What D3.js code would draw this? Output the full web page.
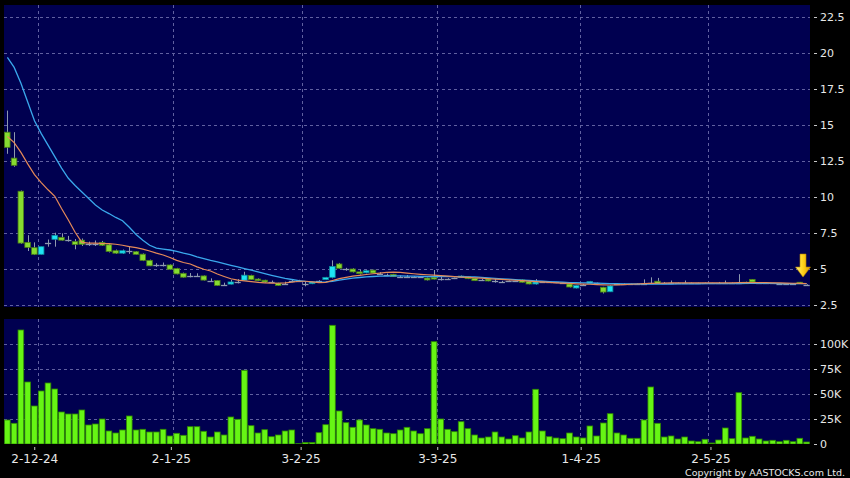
<!DOCTYPE html>
<html><head><meta charset="utf-8">
<script src="https://cdn.jsdelivr.net/npm/d3@7"></script>
<style>html,body{margin:0;padding:0;background:#000;}svg{display:block;}</style>
</head><body>
<svg id="c" width="850" height="478"></svg>
<script>
const dates = [
"2024-11-26","2024-11-27","2024-11-28","2024-11-29",
"2024-12-02","2024-12-03","2024-12-04","2024-12-05","2024-12-06",
"2024-12-09","2024-12-10","2024-12-11","2024-12-12","2024-12-13",
"2024-12-16","2024-12-17","2024-12-18","2024-12-19","2024-12-20",
"2024-12-23","2024-12-24","2024-12-27","2024-12-30","2024-12-31",
"2025-01-02","2025-01-03","2025-01-06","2025-01-07","2025-01-08","2025-01-09","2025-01-10",
"2025-01-13","2025-01-14","2025-01-15","2025-01-16","2025-01-17",
"2025-01-20","2025-01-21","2025-01-22","2025-01-23","2025-01-24","2025-01-27","2025-01-28",
"2025-02-03","2025-02-04","2025-02-05","2025-02-06","2025-02-07",
"2025-02-10","2025-02-11","2025-02-12","2025-02-13","2025-02-14",
"2025-02-17","2025-02-18","2025-02-19","2025-02-20","2025-02-21",
"2025-02-24","2025-02-25","2025-02-26","2025-02-27","2025-02-28",
"2025-03-03","2025-03-04","2025-03-05","2025-03-06","2025-03-07",
"2025-03-10","2025-03-11","2025-03-12","2025-03-13","2025-03-14",
"2025-03-17","2025-03-18","2025-03-19","2025-03-20","2025-03-21",
"2025-03-24","2025-03-25","2025-03-26","2025-03-27","2025-03-28","2025-03-31",
"2025-04-01","2025-04-02","2025-04-03","2025-04-07","2025-04-08","2025-04-09","2025-04-10","2025-04-11",
"2025-04-14","2025-04-15","2025-04-16","2025-04-17",
"2025-04-22","2025-04-23","2025-04-24","2025-04-25","2025-04-28","2025-04-29","2025-04-30",
"2025-05-02","2025-05-06","2025-05-07","2025-05-08","2025-05-09",
"2025-05-12","2025-05-13","2025-05-14","2025-05-15","2025-05-16",
"2025-05-19","2025-05-20","2025-05-21","2025-05-22","2025-05-23","2025-05-26"];

const open = [
14.5,12.7,10.4,6.85,6.48,6.02,6.78,7.06,7.2,7.0,
6.9,7.0,6.72,6.75,6.85,6.68,6.27,6.1,6.27,6.2,
6.03,5.6,5.25,5.25,5.28,5.03,4.7,4.5,4.53,4.52,
4.2,4.2,3.92,3.95,4.12,4.22,4.55,4.3,4.22,4.1,
4.02,3.98,4.15,4.17,3.97,3.98,4.15,4.26,4.42,5.35,
4.97,5.0,4.8,4.74,4.92,4.68,4.6,4.63,4.47,4.46,
4.43,4.45,4.37,4.42,4.3,4.3,4.35,4.4,4.47,4.35,
4.24,4.3,4.15,4.12,4.14,4.14,4.24,4.12,3.96,4.1,
4.08,4.07,4.02,3.96,3.68,3.9,4.0,4.0,3.73,3.42,
3.96,3.96,3.96,3.97,3.98,4.0,4.15,4.0,4.02,4.02,
4.03,4.03,4.03,4.03,4.03,4.03,4.05,4.03,4.05,4.08,
4.28,4.05,4.02,4.0,3.99,3.98,3.98,4.08,3.92];
const high = [
16.0,14.5,10.45,7.35,6.85,6.55,7.05,7.52,7.48,7.3,
7.08,7.12,6.9,6.98,6.95,6.78,6.35,6.35,6.55,6.25,
6.08,5.65,5.4,5.45,5.32,5.08,4.75,4.72,4.7,4.55,
4.35,4.23,4.05,4.25,4.3,4.81,4.6,4.35,4.25,4.2,
4.05,4.12,4.28,4.25,4.12,4.12,4.22,4.45,5.6,5.42,
5.08,5.05,4.95,4.92,4.95,4.78,4.68,4.66,4.55,4.58,
4.5,4.5,4.4,4.93,4.45,4.36,4.4,4.55,4.5,4.37,
4.3,4.32,4.3,4.18,4.2,4.18,4.27,4.15,4.3,4.14,
4.12,4.1,4.06,3.98,3.87,3.95,4.17,4.05,3.76,3.86,
4.0,4.0,3.98,4.0,4.28,4.42,4.38,4.1,4.2,4.06,
4.2,4.06,4.05,4.06,4.04,4.1,4.2,4.07,4.64,4.12,
4.3,4.1,4.05,4.03,4.03,4.0,4.0,4.1,3.95];
const low = [
13.0,12.1,6.75,6.25,5.97,6.0,6.55,6.55,6.97,6.9,
6.37,6.6,6.6,6.6,6.6,6.15,6.05,6.05,6.05,6.0,
5.55,5.2,5.15,5.18,4.95,4.63,4.4,4.42,4.45,4.2,
4.15,3.82,3.85,3.93,4.0,4.2,4.24,4.15,4.05,4.02,
3.82,3.9,4.08,4.1,3.8,3.95,4.08,4.24,4.35,5.02,
4.88,4.76,4.62,4.7,4.7,4.6,4.52,4.45,4.42,4.4,
4.38,4.38,4.2,4.28,4.2,4.25,4.3,4.38,4.3,4.17,
4.2,4.15,4.05,4.08,4.1,4.1,4.06,3.94,3.92,4.05,
4.03,4.02,3.98,3.72,3.65,3.85,3.98,3.95,3.3,3.4,
3.9,3.93,3.94,3.94,3.95,3.96,3.98,3.97,3.98,3.99,
4.0,4.0,4.01,4.0,4.02,4.0,4.0,4.0,4.0,4.03,
4.08,4.02,4.0,3.97,3.96,3.95,3.96,3.96,3.9];
const close = [
13.45,12.2,6.8,6.5,6.02,6.55,6.78,7.34,7.0,7.0,
6.7,6.72,6.72,6.75,6.65,6.22,6.1,6.27,6.27,6.02,
5.6,5.22,5.25,5.25,4.98,4.66,4.43,4.5,4.53,4.23,
4.2,3.86,3.92,4.1,4.12,4.57,4.27,4.19,4.1,4.1,
3.86,3.98,4.15,4.17,3.97,4.1,4.15,4.42,5.18,5.05,
4.97,4.8,4.68,4.88,4.72,4.68,4.6,4.47,4.47,4.46,
4.43,4.45,4.24,4.3,4.3,4.3,4.35,4.51,4.33,4.19,
4.24,4.17,4.15,4.12,4.14,4.14,4.08,3.96,4.1,4.1,
4.08,4.07,4.02,3.75,3.85,3.9,4.13,4.0,3.4,3.82,
3.96,3.96,3.96,3.97,3.98,4.0,4.0,4.0,4.02,4.02,
4.03,4.03,4.03,4.03,4.03,4.03,4.05,4.03,4.05,4.05,
4.1,4.05,4.02,4.0,3.99,3.98,3.98,3.97,3.92];
const volume = [
24000,20700,114000,62000,38000,53000,61000,55000,32000,30000,
30000,34000,19000,20000,25000,13000,11000,14000,28000,14000,
14700,12000,12000,14700,8000,10700,8700,17300,17300,12700,
7000,12000,9000,27000,24700,73700,18300,11000,14300,7300,
9000,13000,14000,300,1500,1500,11300,19300,118700,33000,
21300,16700,24000,19000,15300,14700,11000,10300,14000,16700,
13000,10300,15300,102300,25000,14700,12300,22300,15300,9000,
6000,7000,12000,7000,5000,8300,6000,12000,54700,13000,
7300,6000,5300,11000,7000,6000,18000,8000,21000,30300,
11000,9000,5700,5700,24000,57000,20700,7000,8000,5000,
7000,3000,2300,4700,1000,4000,16000,5300,51300,6000,
7700,5000,3000,3700,2300,3700,2300,5700,2000];
const maShort = [
14.2,13.78,13.1,12.3,11.55,11.0,10.5,10.05,9.2,8.4,
7.55,6.85,6.8,6.79,6.77,6.76,6.72,6.65,6.56,6.48,
6.38,6.25,6.1,5.97,5.8,5.6,5.45,5.35,5.15,4.98,
4.86,4.65,4.48,4.32,4.23,4.18,4.12,4.07,4.04,4.02,
4.01,4.03,4.08,4.15,4.15,4.1,4.05,4.07,4.2,4.33,
4.42,4.5,4.56,4.62,4.67,4.72,4.76,4.78,4.77,4.72,
4.67,4.63,4.6,4.57,4.54,4.5,4.47,4.44,4.42,4.39,
4.36,4.33,4.3,4.28,4.25,4.22,4.19,4.16,4.13,4.1,
4.07,4.04,4.02,4.0,3.97,3.95,3.94,3.92,3.9,3.89,
3.9,3.92,3.94,3.96,3.98,4.0,4.01,4.02,4.03,4.03,
4.03,4.03,4.03,4.03,4.03,4.03,4.03,4.04,4.05,4.06,
4.06,4.06,4.05,4.04,4.03,4.02,4.01,4.0,3.99];
const maLong = [
19.7,19.0,17.9,16.6,15.3,14.4,13.6,12.8,12.0,11.3,
10.8,10.35,9.9,9.45,9.1,8.85,8.58,8.35,7.9,7.4,
7.0,6.65,6.45,6.38,6.32,6.22,6.1,6.0,5.85,5.72,
5.6,5.5,5.38,5.26,5.14,5.03,4.92,4.8,4.68,4.56,
4.45,4.35,4.27,4.2,4.14,4.1,4.08,4.1,4.15,4.22,
4.3,4.36,4.41,4.45,4.48,4.5,4.51,4.52,4.52,4.51,
4.5,4.49,4.48,4.48,4.48,4.48,4.47,4.47,4.46,4.45,
4.42,4.38,4.35,4.32,4.29,4.26,4.23,4.2,4.18,4.15,
4.12,4.1,4.08,4.06,4.05,4.04,4.03,4.02,4.0,3.99,
3.98,3.97,3.97,3.96,3.96,3.96,3.96,3.96,3.96,3.97,
3.97,3.97,3.97,3.98,3.98,3.98,3.98,3.99,3.99,4.0,
4.0,4.0,4.0,4.0,3.99,3.99,3.99,3.98,3.98];

const priceTicks = [2.5,5,7.5,10,12.5,15,17.5,20,22.5];
const volTicks = [0,25000,50000,75000,100000];
const volTickLabels = ["0","25K","50K","75K","100K"];
const xTickDates = ["2024-12-02","2025-01-02","2025-02-03","2025-03-03","2025-04-01","2025-05-02"];
const xTickLabels = ["2-12-24","2-1-25","3-2-25","3-3-25","1-4-25","2-5-25"];

const svg = d3.select("#c");
const FONT = "DejaVu Sans, Verdana, sans-serif";
const NAVY = "#000050";
const GRID = "#6060a0";
const L = 4, R = 810;
const P = {top:5, bottom:307};
const V = {top:319, bottom:444};

const x = d3.scaleBand().domain(dates).range([L, R]);
const xLab = d3.scaleBand().domain(dates.slice(0, -1)).range([L, R]);
const bw = x.bandwidth();
const cx = d => x(d) + bw / 2;
const y = d3.scaleLinear().domain([2.5, 22.5]).range([305, 17]);
const yv = d3.scaleLinear().domain([0, 100000]).range([444, 344]);

svg.append("rect").attr("width",850).attr("height",478).attr("fill","#000");
svg.append("rect").attr("x",L).attr("y",P.top).attr("width",R-L).attr("height",P.bottom-P.top).attr("fill",NAVY);
svg.append("rect").attr("x",L).attr("y",V.top).attr("width",R-L).attr("height",V.bottom-V.top).attr("fill",NAVY);

const defs = svg.append("defs");
defs.append("clipPath").attr("id","cp").append("rect").attr("x",L).attr("y",P.top).attr("width",R-L).attr("height",P.bottom-P.top);
defs.append("clipPath").attr("id","cv").append("rect").attr("x",L).attr("y",V.top).attr("width",R-L).attr("height",V.bottom-V.top);
const grad = defs.append("linearGradient").attr("id","ag").attr("x1","0").attr("x2","1").attr("y1","0").attr("y2","0");
grad.append("stop").attr("offset","0").attr("stop-color","#fff27a");
grad.append("stop").attr("offset","0.5").attr("stop-color","#ffd21a");
grad.append("stop").attr("offset","1").attr("stop-color","#d99a00");

// grid lines
const gp = svg.append("g").attr("clip-path","url(#cp)");
gp.selectAll("line.h").data(priceTicks).join("line")
  .attr("x1",L).attr("x2",R).attr("y1",d=>Math.round(y(d))+0.5).attr("y2",d=>Math.round(y(d))+0.5)
  .attr("stroke",GRID).attr("stroke-dasharray","3,3");
gp.selectAll("line.v").data(xTickDates).join("line")
  .attr("x1",d=>Math.round(x(d)+x.step())+0.5).attr("x2",d=>Math.round(x(d)+x.step())+0.5)
  .attr("y1",P.top).attr("y2",P.bottom).attr("stroke",GRID).attr("stroke-dasharray","3,3");
const gv = svg.append("g").attr("clip-path","url(#cv)");
gv.selectAll("line.h").data(volTicks.slice(1)).join("line")
  .attr("x1",L).attr("x2",R).attr("y1",d=>Math.round(yv(d))+0.5).attr("y2",d=>Math.round(yv(d))+0.5)
  .attr("stroke",GRID).attr("stroke-dasharray","3,3");
gv.selectAll("line.v").data(xTickDates).join("line")
  .attr("x1",d=>Math.round(x(d)+x.step())+0.5).attr("x2",d=>Math.round(x(d)+x.step())+0.5)
  .attr("y1",V.top).attr("y2",V.bottom).attr("stroke",GRID).attr("stroke-dasharray","3,3");

// candles
const rows = dates.map((d,i)=>({d, o:open[i], h:high[i], l:low[i], c:close[i], v:volume[i], i}));
const gc = gp.append("g");
gc.selectAll("line.w").data(rows).join("line")
  .attr("x1",r=>Math.round(cx(r.d))+0.5).attr("x2",r=>Math.round(cx(r.d))+0.5)
  .attr("y1",r=>y(r.h)).attr("y2",r=>y(r.l))
  .attr("stroke","#8e9aae").attr("stroke-width",1);
gc.selectAll("rect.b").data(rows.filter(r=>r.o!==r.c)).join("rect")
  .attr("x",r=>x(r.d)+0.5).attr("width",bw-1.2)
  .attr("y",r=>y(Math.max(r.o,r.c))).attr("height",r=>Math.max(1.5, Math.abs(y(r.o)-y(r.c))))
  .attr("fill",r=>r.c>r.o?"#1ee4f4":"#86dc30")
  .attr("stroke",r=>r.c>r.o?"#0c8c9c":"#4a7f16").attr("stroke-width",0.8);
gc.selectAll("line.dj").data(rows.filter(r=>r.o===r.c)).join("line")
  .attr("x1",r=>x(r.d)+0.3).attr("x2",r=>x(r.d)+bw-0.3)
  .attr("y1",r=>Math.round(y(r.c))+0.5).attr("y2",r=>Math.round(y(r.c))+0.5)
  .attr("stroke","#8e9aae").attr("stroke-width",1.3);

// moving averages
const line = arr => d3.line().x((d,i)=>cx(dates[i])).y(d=>y(d))(arr);
gp.append("path").attr("d",line(maLong)).attr("fill","none").attr("stroke","#3aa8ec").attr("stroke-width",1.3);
gp.append("path").attr("d",line(maShort)).attr("fill","none").attr("stroke","#e68a58").attr("stroke-width",1.2);

// volume bars
gv.selectAll("rect.vb").data(rows).join("rect")
  .attr("x",r=>x(r.d)+0.5).attr("width",bw-1.1)
  .attr("y",r=>yv(r.v)).attr("height",r=>Math.max(0.5, yv(0)-yv(r.v)))
  .attr("fill","#66f514").attr("stroke","#2f8a00").attr("stroke-width",0.8);

// arrow marking the last bar
const last = rows[rows.length-1];
const ax = cx(last.d) - 3.6, ay = y(last.c) - 7.5;
svg.append("path")
  .attr("d",`M${ax-3},${ay-23} L${ax+3},${ay-23} L${ax+3},${ay-10} L${ax+7.5},${ay-10} L${ax},${ay} L${ax-7.5},${ay-10} L${ax-3},${ay-10} Z`)
  .attr("fill","url(#ag)").attr("stroke","#b88400").attr("stroke-width",0.6);

// axes
function styleAxis(g, size){
  g.select(".domain").remove();
  g.selectAll(".tick line").attr("stroke","#c8c8c8");
  g.selectAll(".tick text").attr("fill","#e8e8e8").attr("font-family",FONT).attr("font-size",size);
}
svg.append("g").attr("transform",`translate(814,0)`)
  .call(d3.axisRight(y).tickValues(priceTicks).tickFormat(d=>String(d)).tickSize(3).tickPadding(3))
  .call(g=>styleAxis(g,11));
svg.append("g").attr("transform",`translate(814,0)`)
  .call(d3.axisRight(yv).tickValues(volTicks).tickFormat((d,i)=>volTickLabels[i]).tickSize(3).tickPadding(3))
  .call(g=>styleAxis(g,11));
svg.append("g").attr("transform",`translate(0,447)`)
  .call(d3.axisBottom(xLab).tickValues(xTickDates).tickFormat((d,i)=>xTickLabels[i]).tickSize(3).tickPadding(4))
  .call(g=>styleAxis(g,12));

svg.append("text").attr("x",845).attr("y",476).attr("text-anchor","end")
  .attr("fill","#e8e8e8").attr("font-family",FONT).attr("font-size",9.5)
  .text("Copyright by AASTOCKS.com Ltd.");
</script>
</body></html>
